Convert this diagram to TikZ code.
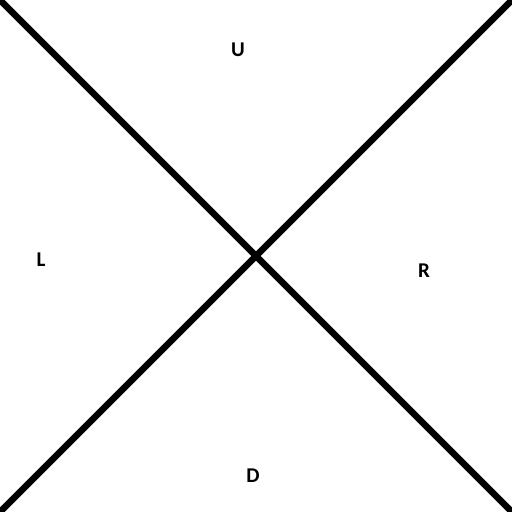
\documentclass[tikz,border=0pt]{standalone}
\usepackage{fontspec}
\setmainfont{Carlito}
\begin{document}
\begin{tikzpicture}[x=1pt,y=-1pt,
  bar/.style={line width=6.5pt,black},
  lbl/.style={font=\fontsize{21}{24}\selectfont\bfseries,inner sep=0pt,anchor=center}]
\useasboundingbox (0,0) rectangle (512,512);
\clip (0,0) rectangle (512,512);
\fill[white] (0,0) rectangle (512,512);
\coordinate (tl) at (-8,-8);
\coordinate (br) at (520,520);
\coordinate (tr) at (520,-8);
\coordinate (bl) at (-8,520);
\draw[bar] (tl) -- (br);
\draw[bar] (tr) -- (bl);
\node[lbl] (U) at (238,50) {U};
\node[lbl] (L) at (41,260) {L};
\node[lbl] (R) at (424,270.5) {R};
\node[lbl] (D) at (253,476) {D};
\end{tikzpicture}
\end{document}
